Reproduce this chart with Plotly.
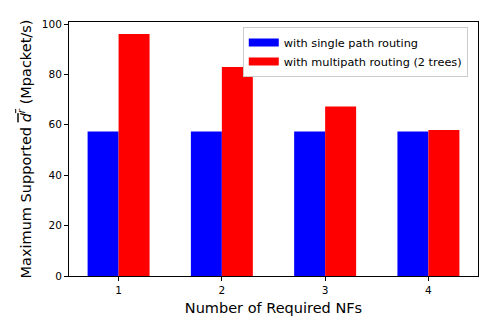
import plotly.graph_objects as go

nfs = [1, 2, 3, 4]
single_path = [57.3, 57.3, 57.3, 57.3]
multipath = [96.0, 82.9, 67.3, 57.9]

series_names = ['with single path routing', 'with multipath routing (2 trees)']
series_colors = ['blue', 'red']

bar_w = 0.3

fig = go.Figure()

for k, vals in enumerate([single_path, multipath]):
    offset = -bar_w / 2 if k == 0 else bar_w / 2
    fig.add_trace(go.Bar(
        x=[n + offset for n in nfs],
        y=vals,
        width=bar_w,
        marker=dict(color=series_colors[k], line=dict(width=0)),
        name=series_names[k],
        showlegend=False,
    ))
    # wide flat legend patch like matplotlib's
    fig.add_trace(go.Scatter(
        x=[None], y=[None], mode='lines',
        line=dict(color=series_colors[k], width=8),
        name=series_names[k],
    ))

axis_style = dict(
    showline=True, linecolor='black', linewidth=1, mirror=True,
    ticks='outside', ticklen=4, tickcolor='black', showgrid=False, zeroline=False,
    tickfont=dict(family='DejaVu Sans', size=10.5, color='black'),
    automargin=False,
)

fig.update_layout(
    width=491, height=327,
    margin=dict(l=69, r=13, t=22, b=51),
    paper_bgcolor='white',
    plot_bgcolor='white',
    barmode='overlay',
    font=dict(family='DejaVu Sans', color='black'),
    xaxis=dict(
        range=[0.52, 4.48], tickvals=nfs, ticktext=[str(n) for n in nfs],
        title=dict(text='Number of Required NFs', font=dict(size=14.5), standoff=8),
        **axis_style,
    ),
    yaxis=dict(
        range=[0, 100.8], tickvals=[0, 20, 40, 60, 80, 100],
        title=dict(
            text="Maximum Supported <span style='text-decoration:overline'><i>d</i><sup><i>r</i></sup></span> (Mpacket/s)",
            font=dict(size=14.5), standoff=6,
        ),
        **axis_style,
    ),
    legend=dict(
        x=0.975, y=0.98, xanchor='right', yanchor='top',
        bgcolor='white', bordercolor='#cccccc', borderwidth=1,
        font=dict(size=11.3), tracegroupgap=0, itemwidth=30,
    ),
)

# page body has a default 8px margin, drop it so the figure sits at 0,0
fig.write_html("out.html", config={'displayModeBar': False},
               post_script="document.body.style.margin='0';")
